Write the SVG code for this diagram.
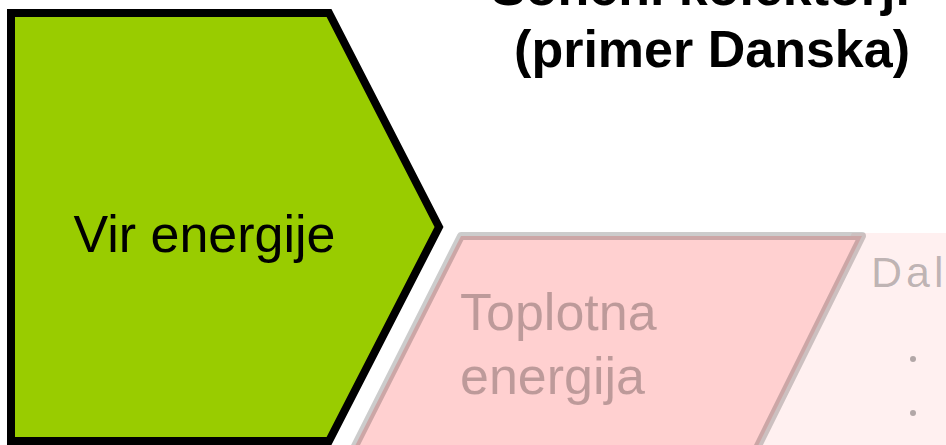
<svg xmlns="http://www.w3.org/2000/svg" width="946" height="445" viewBox="0 0 946 445">
  <style>
    .t { font-family: "Liberation Sans", Arial, sans-serif; }
    .title { font-size: 52px; font-weight: bold; fill: #000; }
    .big { font-size: 52px; }
    .faded { fill: #000; fill-opacity: 0.26; }
  </style>
  <rect x="0" y="0" width="946" height="445" fill="#ffffff"/>
  <g id="node-daljinsko">
    <polygon points="852,233 960,233 960,450 742,450" fill="#fff0f0"/>
    <text class="t faded" x="871" y="287" style="font-size:43px;letter-spacing:4px">Daljinsko</text>
    <circle cx="913" cy="359" r="3" fill="#000" fill-opacity="0.3"/>
    <circle cx="913" cy="413" r="3" fill="#000" fill-opacity="0.3"/>
  </g>
  <g id="node-toplotna">
    <polygon points="461,236 862,236 755,452 352,452" fill="#ffd0d0" stroke="#000" stroke-opacity="0.2" stroke-width="8" stroke-linejoin="round"/>
    <text class="t big faded" x="460" y="330">Toplotna</text>
    <text class="t big faded" x="460" y="394">energija</text>
  </g>
  <g id="node-vir">
    <polygon points="11,13 329,13 439,227 329,441 11,441" fill="#99cc00" stroke="#000" stroke-width="8" stroke-linejoin="miter"/>
    <text class="t big" x="204.5" y="252" text-anchor="middle" fill="#000">Vir energije</text>
  </g>
  <g id="title">
    <text class="t title" x="910" y="5" text-anchor="end">Sončni kolektorji</text>
    <text class="t title" x="910" y="67" text-anchor="end">(primer Danska)</text>
  </g>
  <g id="connectors"/>
</svg>
